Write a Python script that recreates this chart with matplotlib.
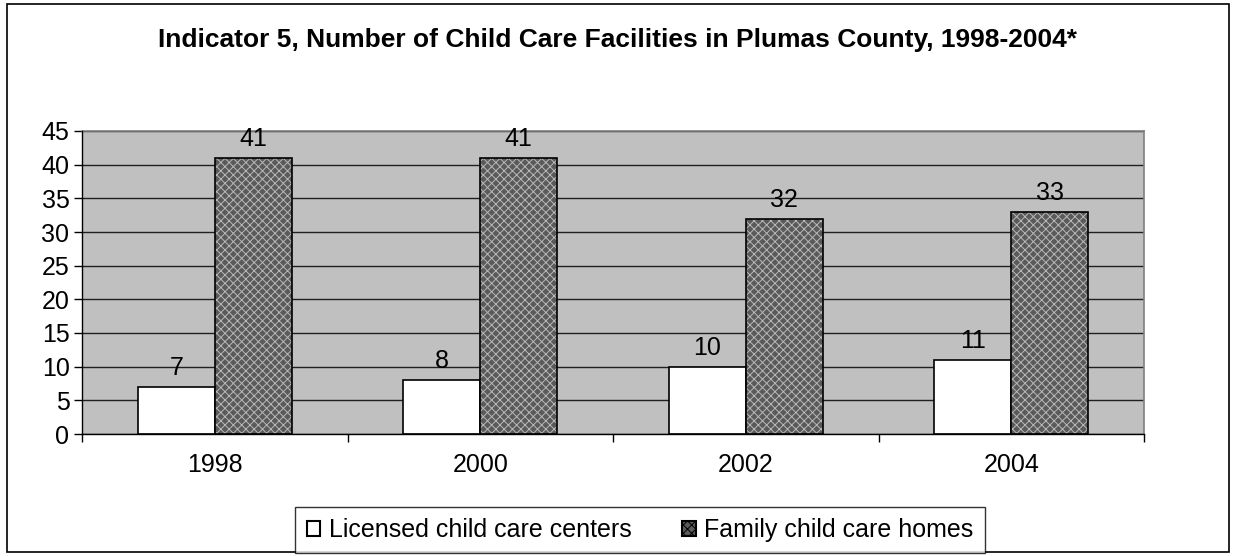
import numpy as np
import matplotlib.pyplot as plt
from matplotlib.patches import Rectangle

years = ['1998', '2000', '2002', '2004']
licensed = [7, 8, 10, 11]
family = [41, 41, 32, 33]

plt.rcParams['font.family'] = ['Liberation Sans', 'DejaVu Sans']
plt.rcParams['hatch.linewidth'] = 0.7

fig = plt.figure(figsize=(12.36, 5.56), dpi=100)
ax = fig.add_axes([82/1236, 1 - 434/556, (1144-82)/1236, (434-131)/556])
ax.set_facecolor('#c0c0c0')

x = np.arange(len(years))
w = 0.29
ax.bar(x - w/2, licensed, w, color='white', edgecolor='black', linewidth=1.2, zorder=3)
# textured bars: hatch first, then a black outline on top
ax.bar(x + w/2, family, w, color='#5a5a5a', edgecolor='#b8b8b8', hatch='xxxx', linewidth=0, zorder=3)
ax.bar(x + w/2, family, w, fill=False, edgecolor='black', linewidth=1.2, zorder=4)

for xi, v in zip(x - w/2, licensed):
    ax.text(xi, v + 1.0, str(v), ha='center', va='bottom', fontsize=18)
for xi, v in zip(x + w/2, family):
    ax.text(xi, v + 1.0, str(v), ha='center', va='bottom', fontsize=18)

ax.set_xlim(-0.5, 3.5)
ax.set_ylim(0, 45)
ax.set_yticks(range(0, 46, 5))
ax.tick_params(axis='y', labelsize=18, length=6, width=1, direction='out', pad=3)
ax.yaxis.grid(True, color='#202020', linewidth=1)
ax.set_axisbelow(True)

ax.set_xticks(np.arange(-0.5, 4, 1))
ax.set_xticklabels([])
ax.set_xticks(x, minor=True)
ax.set_xticklabels(years, minor=True)
ax.tick_params(axis='x', which='major', length=6, width=1, direction='out')
ax.tick_params(axis='x', which='minor', length=0, labelsize=18, pad=14)

for s in ['top', 'right']:
    ax.spines[s].set_color('#808080')
    ax.spines[s].set_linewidth(1.2)
for s in ['left', 'bottom']:
    ax.spines[s].set_linewidth(1)
    ax.spines[s].set_zorder(5)

fig.text(618/1236, 1 - 40/556, 'Indicator 5, Number of Child Care Facilities in Plumas County, 1998-2004*',
         ha='center', va='center', fontsize=19, fontweight='bold')

h1 = Rectangle((0, 0), 1, 1, facecolor='white', edgecolor='black', linewidth=1.5)
h2 = Rectangle((0, 0), 1, 1, facecolor='#5a5a5a', edgecolor='#b8b8b8', hatch='xxxx', linewidth=1.5)
leg = fig.legend([h1, h2], ['Licensed child care centers', 'Family child care homes'],
                 loc='center', bbox_to_anchor=(640/1236, 1 - 530/556), ncol=2, fontsize=18,
                 frameon=True, fancybox=False, edgecolor='black', handlelength=0.55, handleheight=0.55,
                 handletextpad=0.35, columnspacing=2.0, borderpad=0.45, borderaxespad=0)
leg.get_frame().set_linewidth(1)
leg.legend_handles[1].set_edgecolor('black')

fig.add_artist(Rectangle((7/1236, 1 - 552/556), 1222/1236, 548/556, transform=fig.transFigure,
                         fill=False, edgecolor='black', linewidth=1.2))

fig.savefig('out.png', dpi=100)
